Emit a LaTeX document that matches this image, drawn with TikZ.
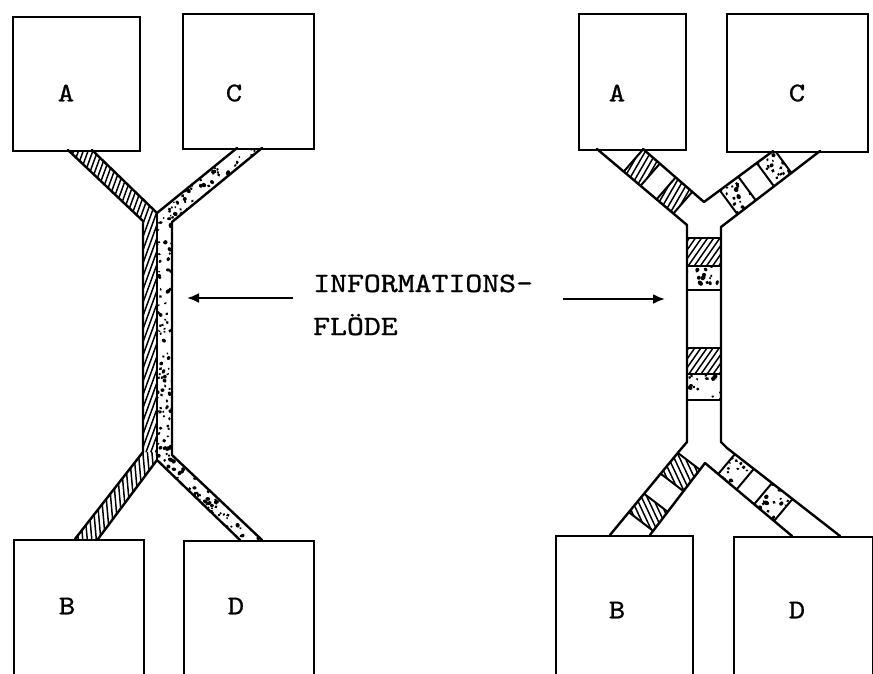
\documentclass[tikz,border=0pt]{standalone}
\usepackage{fontspec}
\newfontfamily\typefont{lmmono10-regular.otf}[FakeBold=0.9]
\usetikzlibrary{calc,arrows.meta}

\tikzset{
  outline/.style={line width=2.4pt, line join=round, line cap=round},
  boxnode/.style={draw, line width=2.4pt, rectangle, inner sep=0pt, anchor=north west},
  letter/.style={font=\fontsize{27}{27}\selectfont\typefont, inner sep=0pt},
  caption/.style={font=\fontsize{28}{28}\selectfont\typefont, inner sep=0pt, anchor=base west},
  hatchline/.style={line width=1.5pt},
  divider/.style={line width=2pt},
  flowarrow/.style={line width=2.2pt, -{Latex[length=12pt,width=10pt]}},
}

% parallel hatching inside a closed path: #1 path, #2 angle, #3 centre, #4 gap, #5 half count
\newcommand\hatchregion[5]{%
  \begin{scope}
    \clip #1;
    \foreach \k in {-#5,...,#5}
      \draw[hatchline] ($(#3)+({#2+90}:{\k*#4pt})$) ++(#2:-300pt) -- ++(#2:600pt);
  \end{scope}}

% scattered dots inside a closed path: #1 path, #2 centre, #3/#4 half extents,
% #5 number of dots, #6 smallest radius, #7 radius spread
\newcommand\dotregion[7]{%
  \begin{scope}
    \clip #1;
    \foreach \k in {1,...,#5}{%
      \pgfmathsetmacro\ddx{(2*rnd-1)*#3}%
      \pgfmathsetmacro\ddy{(2*rnd-1)*#4}%
      \pgfmathsetmacro\ddr{#6+#7*rnd}%
      \pgfmathsetmacro\dds{0.6+0.8*rnd}%
      \pgfmathsetmacro\ddt{180*rnd}%
      \fill ($(#2)+(\ddx pt,\ddy pt)$) ellipse[x radius=\ddr pt, y radius=\dds*\ddr pt, rotate=\ddt];
    }
  \end{scope}}

% one block of a slanted strip: #1,#2 ends of the outer edge, #3,#4 ends of the inner edge,
% #5,#6 start and end of the block measured along the outer edge
\newcommand\stripblock[6]{%
  \path ($(#1)!#5pt!(#2)$) coordinate (sbA)
        ($(#1)!#6pt!(#2)$) coordinate (sbB);
  \path ($(#3)!(sbA)!(#4)$) coordinate (sbC)
        ($(#3)!(sbB)!(#4)$) coordinate (sbD);
  \path ($(sbA)!0.5!(sbD)$) coordinate (sbM);
}

\begin{document}
\begin{tikzpicture}[x=1pt,y=-1pt]
\pgfmathsetseed{4127}
\useasboundingbox (0,0) rectangle (873,673);

% ---------------- left: shared channel ----------------
\node[boxnode, minimum width=127pt, minimum height=134pt] (A1) at (12,16) {};
\node[boxnode, minimum width=131pt, minimum height=135pt] (C1) at (182,13) {};
\node[boxnode, minimum width=130pt, minimum height=150pt] (B1) at (13,539) {};
\node[boxnode, minimum width=130pt, minimum height=150pt] (D1) at (183,540) {};

\node[letter] (lA1) at (66,93)  {\scalebox{1.15}[1]{A}};
\node[letter] (lC1) at (234,93) {\scalebox{1.15}[1]{C}};
\node[letter] (lB1) at (67,606) {\scalebox{1.15}[1]{B}};
\node[letter] (lD1) at (236,606) {\scalebox{1.15}[1]{D}};

% hatched lane A -> B
\hatchregion{(68,150) -- (92,150) -- (157,213) -- (157,452) -- (143,452) -- (143,221) -- cycle}{70}{120,300}{4.5}{60}
\hatchregion{(143,452) -- (157,452) -- (157,460) -- (98,539) -- (75,539) -- cycle}{95}{115,495}{4.5}{25}
% dotted lane C -> D
\dotregion{(262,148) -- (237,148) -- (157,213) -- (157,460) -- (240,540) -- (262,540) -- (172,455) -- (172,222) -- cycle}{210,344}{53}{196}{1100}{1.1}{1.0}

\draw[outline] (68,150) -- (143,221) -- (143,452) -- (75,539);
\draw[outline] (262,148) -- (172,222) -- (172,455) -- (262,540);
\draw[outline] (92,150) -- (157,213) -- (237,148);
\draw[outline] (98,539) -- (157,460) -- (240,540);
\draw[line width=1.2pt] (157,213) -- (157,460);

% ---------------- right: packet channel ----------------
\node[boxnode, minimum width=107pt, minimum height=136pt] (A2) at (578,13) {};
\node[boxnode, minimum width=141pt, minimum height=138pt] (C2) at (726,13) {};
\node[boxnode, minimum width=137pt, minimum height=150pt] (B2) at (555,535) {};
\node[boxnode, minimum width=139pt, minimum height=150pt] (D2) at (733,536) {};

\node[letter] (lA2) at (617,93)  {\scalebox{1.15}[1]{A}};
\node[letter] (lC2) at (797,93)  {\scalebox{1.15}[1]{C}};
\node[letter] (lB2) at (617,610) {\scalebox{1.15}[1]{B}};
\node[letter] (lD2) at (797,610) {\scalebox{1.15}[1]{D}};

\coordinate (tlO0) at (597,149); \coordinate (tlO1) at (687,225);
\coordinate (tlI0) at (643,149); \coordinate (tlI1) at (704,202);
\coordinate (trO0) at (820,151); \coordinate (trO1) at (721,227);
\coordinate (trI0) at (773,151); \coordinate (trI1) at (704,202);
\coordinate (blO0) at (681,449); \coordinate (blO1) at (610,535);
\coordinate (blI0) at (705,463); \coordinate (blI1) at (650,535);
\coordinate (brO0) at (727,448); \coordinate (brO1) at (840,536);
\coordinate (brI0) at (705,463); \coordinate (brI1) at (792,536);

\begin{scope}
  \clip (597,149) -- (687,225) -- (687,442) -- (681,449) -- (610,535) -- (650,535)
     -- (705,463) -- (792,536) -- (840,536) -- (727,448) -- (721,442) -- (721,227)
     -- (820,151) -- (773,151) -- (704,202) -- (643,149) -- cycle;

  % upper left lane (hatched packets)
  \stripblock{tlO0}{tlO1}{tlI0}{tlI1}{35}{57}
  \hatchregion{(sbA) -- (sbB) -- (sbD) -- (sbC) -- cycle}{60}{sbM}{5}{12}
  \draw[divider] (sbA) -- (sbC) (sbB) -- (sbD);
  \stripblock{tlO0}{tlO1}{tlI0}{tlI1}{78}{100}
  \hatchregion{(sbA) -- (sbB) -- (sbD) -- (sbC) -- cycle}{60}{sbM}{5}{12}
  \draw[divider] (sbA) -- (sbC) (sbB) -- (sbD);

  % upper right lane (dotted packets)
  \stripblock{trO0}{trO1}{trI0}{trI1}{36}{58}
  \dotregion{(sbA) -- (sbB) -- (sbD) -- (sbC) -- cycle}{sbM}{20}{20}{34}{1.2}{1.0}
  \draw[divider] (sbA) -- (sbC) (sbB) -- (sbD);
  \stripblock{trO0}{trO1}{trI0}{trI1}{81}{104}
  \dotregion{(sbA) -- (sbB) -- (sbD) -- (sbC) -- cycle}{sbM}{20}{20}{34}{1.2}{1.0}
  \draw[divider] (sbA) -- (sbC) (sbB) -- (sbD);

  % common stem
  \hatchregion{(687,238) rectangle (721,266)}{55}{704,252}{5}{12}
  \dotregion{(687,266) rectangle (721,290)}{704,278}{18}{13}{16}{1.2}{1.0}
  \hatchregion{(687,348) rectangle (721,374)}{55}{704,361}{5}{12}
  \dotregion{(687,374) rectangle (721,400)}{704,387}{18}{14}{17}{1.2}{1.0}
  \foreach \yy in {238,266,290,348,374,400}
    \draw[divider] (687,\yy) -- (721,\yy);

  % lower left lane (hatched packets)
  \stripblock{blO0}{blO1}{blI0}{blI1}{5}{32}
  \hatchregion{(sbA) -- (sbB) -- (sbD) -- (sbC) -- cycle}{115}{sbM}{5}{12}
  \draw[divider] (sbA) -- (sbC) (sbB) -- (sbD);
  \stripblock{blO0}{blO1}{blI0}{blI1}{58}{82}
  \hatchregion{(sbA) -- (sbB) -- (sbD) -- (sbC) -- cycle}{115}{sbM}{5}{12}
  \draw[divider] (sbA) -- (sbC) (sbB) -- (sbD);

  % lower right lane (dotted packets)
  \stripblock{brO0}{brO1}{brI0}{brI1}{10}{34}
  \dotregion{(sbA) -- (sbB) -- (sbD) -- (sbC) -- cycle}{sbM}{20}{20}{34}{1.2}{1.0}
  \draw[divider] (sbA) -- (sbC) (sbB) -- (sbD);
  \stripblock{brO0}{brO1}{brI0}{brI1}{57}{83}
  \dotregion{(sbA) -- (sbB) -- (sbD) -- (sbC) -- cycle}{sbM}{20}{20}{34}{1.2}{1.0}
  \draw[divider] (sbA) -- (sbC) (sbB) -- (sbD);
\end{scope}

\draw[outline] (tlO0) -- (tlO1) -- (687,442) -- (blO0) -- (blO1);
\draw[outline] (tlI0) -- (tlI1) -- (trI0);
\draw[outline] (trO0) -- (trO1) -- (721,442) -- (brO0) -- (brO1);
\draw[outline] (blI1) -- (blI0) -- (brI1);

% ---------------- caption with arrows ----------------
\coordinate (ls) at (293,298); \coordinate (lt) at (187,298);
\coordinate (rs) at (563,299); \coordinate (rt) at (665,299);
\draw[flowarrow] (ls) -- (lt);
\draw[flowarrow] (rs) -- (rt);
\node[caption] (cap1) at (313,292) {\scalebox{1.15}[1]{INFORMATIONS-}};
\node[caption] (cap2) at (313,335) {\scalebox{1.15}[1]{FLÖDE}};
\end{tikzpicture}
\end{document}
